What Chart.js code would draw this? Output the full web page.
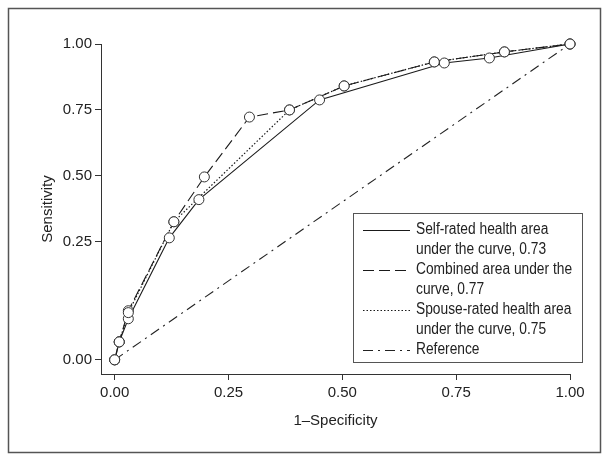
<!DOCTYPE html>
<html>
<head>
<meta charset="utf-8">
<script src="https://cdn.jsdelivr.net/npm/chart.js@4.4.1/dist/chart.umd.min.js"></script>
<style>
  html, body { margin: 0; padding: 0; background: #fff; }
  #wrap { width: 608px; height: 455px; }
</style>
</head>
<body>
<div id="wrap"><canvas id="roc" width="608" height="455"></canvas></div>
<script>
// ticks shared by both axes
var tickValues=[0, 0.25, 0.5, 0.75, 1];

// self-rated health
var selfX=[0, 0.01, 0.03, 0.12, 0.185, 0.45, 0.724, 0.823, 1];
var selfY=[0, 0.038, 0.087, 0.265, 0.41, 0.788, 0.928, 0.947, 1];
// combined
var combX=[0, 0.01, 0.03, 0.13, 0.197, 0.296, 0.384, 0.504, 0.702, 0.856, 1];
var combY=[0, 0.038, 0.104, 0.326, 0.496, 0.723, 0.75, 0.841, 0.932, 0.97, 1];
// spouse-rated health
var spouseX=[0, 0.01, 0.03, 0.13, 0.384, 0.504, 0.702, 0.856, 1];
var spouseY=[0, 0.038, 0.10, 0.326, 0.75, 0.841, 0.932, 0.97, 1];
// reference diagonal
var refX=[0, 1];
var refY=[0, 1];

var labels=[
  ["Self-rated health area", "under the curve, 0.73"],
  ["Combined area under the", "curve, 0.77"],
  ["Spouse-rated health area", "under the curve, 0.75"],
  ["Reference"]
];

function pts(xs, ys){
  return xs.map(function(x, i){ return {x: x, y: ys[i]}; });
}

// the original y axis gives the 0-0.25 band more room than the others
var lowStretch=1.79;
function warp(v){
  return v<0.25 ? (v-0.25)*lowStretch : v-0.25;
}
function unwarp(w){
  return w<0 ? w/lowStretch+0.25 : w+0.25;
}
class WarpScale extends Chart.LinearScale {
  getPixelForValue(value){
    if(value===null || value===undefined){
      return NaN;
    }
    var a=warp(this.min), b=warp(this.max);
    return this.getPixelForDecimal((warp(value)-a)/(b-a));
  }
  getValueForPixel(pixel){
    var a=warp(this.min), b=warp(this.max);
    return unwarp(a+this.getDecimalForPixel(pixel)*(b-a));
  }
}
WarpScale.id="warp";
WarpScale.defaults=Chart.LinearScale.defaults;
Chart.register(WarpScale);

var ink="#222";
var fontFam="'Liberation Sans', Arial, sans-serif";
Chart.defaults.font.family=fontFam;
Chart.defaults.color=ink;

var frame={
  id: "frame",
  beforeDraw: function(chart){
    var c=chart.ctx;
    c.save();
    c.fillStyle="#fff";
    c.fillRect(0, 0, chart.width, chart.height);
    c.strokeStyle="#555";
    c.lineWidth=1.5;
    c.strokeRect(8.5, 8.5, 592, 444);
    c.restore();
  }
};

// circles on top of every line
var markers={
  id: "markers",
  afterDatasetsDraw: function(chart){
    var c=chart.ctx;
    c.save();
    c.setLineDash([]);
    c.lineWidth=1;
    c.strokeStyle="#333";
    c.fillStyle="#fff";
    chart.data.datasets.forEach(function(ds, i){
      if(!ds.marks){
        return;
      }
      chart.getDatasetMeta(i).data.forEach(function(el){
        c.beginPath();
        c.arc(el.x, el.y, 5, 0, Math.PI*2);
        c.fill();
        c.stroke();
      });
    });
    c.restore();
  }
};

// condensed-looking legend, text squeezed sideways like the original face
var squeeze=0.86;
var legendBox={
  id: "legendBox",
  afterDraw: function(chart){
    var c=chart.ctx;
    var left=353, top=213, right=582, bottom=362;
    c.save();
    c.strokeStyle="#555";
    c.lineWidth=1;
    c.strokeRect(left+0.5, top+0.5, right-left, bottom-top);
    var y=230;
    chart.data.datasets.forEach(function(ds, i){
      c.beginPath();
      c.setLineDash(ds.borderDash || []);
      c.strokeStyle=ds.borderColor;
      c.lineWidth=ds.borderWidth;
      c.moveTo(363, y+0.5);
      c.lineTo(410, y+0.5);
      c.stroke();
      labels[i].forEach(function(line){
        c.save();
        c.translate(416, y);
        c.scale(squeeze, 1);
        c.font="16px "+fontFam;
        c.textBaseline="middle";
        c.fillStyle=ink;
        c.fillText(line, 0, 0);
        c.restore();
        y+=20;
      });
    });
    c.restore();
  }
};

function axisTicks(scale){
  scale.ticks=tickValues.map(function(v){ return {value: v}; });
}

new Chart(document.getElementById("roc"), {
  type: "line",
  data: {
    datasets: [
      {label: labels[0].join(" "), data: pts(selfX, selfY), borderColor: "#1a1a1a", borderWidth: 1.1, marks: true},
      {label: labels[1].join(" "), data: pts(combX, combY), borderColor: "#1a1a1a", borderWidth: 1.1, borderDash: [11, 5], marks: true},
      {label: labels[2].join(" "), data: pts(spouseX, spouseY), borderColor: "#1a1a1a", borderWidth: 1.2, borderDash: [1.5, 2], marks: true},
      {label: labels[3][0], data: pts(refX, refY), borderColor: "#222", borderWidth: 1.1, borderDash: [10, 5, 2, 5], marks: false}
    ]
  },
  options: {
    responsive: false,
    animation: false,
    devicePixelRatio: 1,
    layout: {padding: {left: 39, top: 44, right: 38, bottom: 21}},
    elements: {
      line: {tension: 0, fill: false},
      point: {radius: 0, hoverRadius: 0}
    },
    datasets: {line: {clip: false}},
    plugins: {legend: {display: false}, tooltip: {enabled: false}},
    scales: {
      x: {
        type: "linear",
        min: -0.03,
        max: 1,
        afterBuildTicks: axisTicks,
        afterFit: function(s){ s.height=60; },
        grid: {drawOnChartArea: false, drawTicks: true, tickLength: 6, color: "#333"},
        border: {display: true, color: "#333", width: 1},
        ticks: {padding: 4, font: {size: 15}, maxRotation: 0, callback: function(v){ return v.toFixed(2); }},
        title: {display: true, text: "1\u2013Specificity", font: {size: 15}, padding: {top: 0, bottom: 4}}
      },
      y: {
        type: "warp",
        min: -0.03,
        max: 1,
        afterBuildTicks: axisTicks,
        afterFit: function(s){ s.width=62; },
        grid: {drawOnChartArea: false, drawTicks: true, tickLength: 6, color: "#333"},
        border: {display: true, color: "#333", width: 1},
        ticks: {padding: 3, font: {size: 15}, callback: function(v){ return v.toFixed(2); }},
        title: {display: true, text: "Sensitivity", font: {size: 15}, padding: 0}
      }
    }
  },
  plugins: [frame, markers, legendBox]
});
</script>
</body>
</html>
